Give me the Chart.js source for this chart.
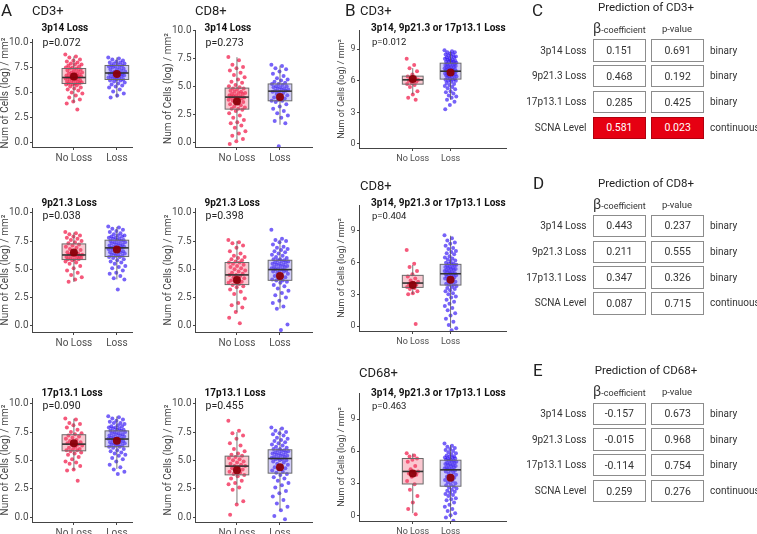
<!DOCTYPE html>
<html>
<head>
<meta charset="utf-8">
<script src="https://cdn.jsdelivr.net/npm/chart.js@4.4.1/dist/chart.umd.min.js"></script>
<style>
  body { margin: 0; width: 757px; height: 534px; position: relative; background: #fff; overflow: hidden; font-family: Roboto, sans-serif; color: #222; }
  canvas { position: absolute; }
  .t { position: absolute; white-space: nowrap; line-height: 1; transform: translateY(-50%); }
  .c { transform: translate(-50%, -50%); }
  .r { transform: translate(-100%, -50%); }
  .cell { position: absolute; box-sizing: border-box; border: 1px solid #8c8c8c; display: flex; align-items: center; justify-content: center; font-size: 10.5px; color: #333; }
  .cell.sig { background: #e60012; color: #fff; border-color: #b0000e; }
</style>
</head>
<body>
<script>
// ---- data ----
const groups = ['No Loss', 'Loss'];
const yTicksA = [0, 2.5, 5, 7.5, 10];
const yTicksB = [0, 3, 6, 9];

// CD3+ / 3p14
const cd3_3p14_noLoss = [8.8,8.6,8.5,8.3,8.2,8.1,8.0,7.9,7.8,7.8,7.7,7.6,7.5,7.5,7.4,7.4,7.3,7.2,7.2,7.1,7.0,7.0,6.9,6.9,6.8,6.8,6.7,6.7,6.6,6.6,6.5,6.5,6.5,6.4,6.4,6.3,6.3,6.2,6.2,6.1,6.1,6.0,6.0,5.9,5.9,5.9,5.8,5.8,5.7,5.6,5.5,5.4,5.3,5.2,5.0,4.9,4.7,4.5,4.3,4.1,3.9,3.3];
const cd3_3p14_loss = [8.5,8.4,8.3,8.2,8.1,8.0,8.0,7.9,7.9,7.8,7.7,7.7,7.6,7.6,7.5,7.5,7.4,7.3,7.3,7.2,7.1,7.1,7.0,7.0,6.9,6.9,6.9,6.8,6.8,6.7,6.7,6.6,6.6,6.5,6.5,6.4,6.4,6.3,6.3,6.2,6.2,6.1,6.0,5.9,5.8,5.7,5.6,5.5,5.3,5.1,4.9,4.7,4.5];
const cd3_3p14_box = [[4.0,5.9,6.5,7.4,8.6],[4.5,6.3,6.95,7.7,8.5]];
const cd3_3p14_mean = [6.6, 6.85];

// CD8+ / 3p14
const cd8_3p14_noLoss = [7.6,7.3,6.9,6.7,6.6,6.4,6.2,6.0,5.8,5.6,5.4,5.3,5.1,5.0,4.9,4.8,4.8,4.7,4.6,4.5,4.5,4.4,4.4,4.3,4.3,4.2,4.2,4.1,4.1,4.0,4.0,4.0,3.9,3.9,3.8,3.8,3.7,3.6,3.5,3.4,3.3,3.2,3.1,3.0,3.0,2.9,2.8,2.6,2.4,2.2,2.0,1.8,1.7,1.5,1.3,1.0,0.8,0.6,0.3,0.1,-0.15];
const cd8_3p14_loss = [6.9,6.8,6.6,6.5,6.3,6.1,5.9,5.7,5.6,5.5,5.4,5.3,5.2,5.2,5.1,5.0,5.0,4.9,4.9,4.8,4.8,4.7,4.7,4.6,4.6,4.5,4.5,4.4,4.3,4.2,4.1,4.0,3.9,3.8,3.7,3.7,3.6,3.4,3.2,3.0,2.8,2.6,2.4,2.2,1.9,1.7,-0.35];
const cd8_3p14_box = [[0.24,2.96,4.03,4.83,7.58],[1.57,3.7,4.56,5.2,6.83]];
const cd8_3p14_mean = [3.64, 4.03];

// CD3+ / 9p21.3
const cd3_9p21_noLoss = [8.3,8.2,8.1,8.0,7.9,7.8,7.7,7.6,7.5,7.4,7.3,7.2,7.1,7.0,6.9,6.8,6.7,6.6,6.5,6.4,6.4,6.3,6.3,6.3,6.2,6.2,6.1,6.1,6.0,6.0,5.9,5.9,5.9,5.8,5.7,5.6,5.5,5.3,5.1,4.9,4.7,4.5,4.3,4.1,3.9];
const cd3_9p21_loss = [8.8,8.7,8.6,8.5,8.4,8.3,8.2,8.1,8.0,8.0,7.9,7.9,7.8,7.8,7.7,7.7,7.6,7.6,7.5,7.5,7.4,7.4,7.3,7.3,7.2,7.2,7.1,7.1,7.0,7.0,6.9,6.9,6.9,6.8,6.8,6.7,6.7,6.6,6.6,6.5,6.5,6.4,6.4,6.3,6.3,6.2,6.2,6.1,6.1,6.0,5.9,5.8,5.7,5.6,5.5,5.3,5.2,5.1,4.9,4.7,4.6,4.4,4.2,4.1,3.2];
const cd3_9p21_box = [[3.87,5.86,6.27,7.25,8.26],[4.1,6.13,6.9,7.58,8.76]];
const cd3_9p21_mean = [6.48, 6.75];

// CD8+ / 9p21.3
const cd8_9p21_noLoss = [7.6,7.4,7.3,7.1,6.9,6.6,6.4,6.2,6.1,6.0,5.9,5.8,5.7,5.6,5.6,5.5,5.4,5.3,5.2,5.1,5.0,4.9,4.8,4.7,4.6,4.5,4.5,4.4,4.3,4.2,4.1,4.0,3.9,3.9,3.8,3.7,3.6,3.5,3.4,3.2,3.0,2.8,2.4,2.0,1.8,1.6,1.2,0.7,0.2];
const cd8_9p21_loss = [8.5,7.7,7.6,7.5,7.4,7.2,7.0,6.9,6.8,6.7,6.6,6.5,6.4,6.3,6.2,6.1,6.0,5.9,5.9,5.8,5.8,5.7,5.7,5.6,5.6,5.5,5.5,5.4,5.4,5.3,5.3,5.2,5.2,5.1,5.1,5.0,5.0,4.9,4.9,4.8,4.8,4.7,4.6,4.5,4.4,4.3,4.2,4.1,4.0,4.0,3.9,3.8,3.6,3.5,3.3,3.1,2.9,2.7,2.5,2.2,2.0,1.7,1.5,0.1,-0.4];
const cd8_9p21_box = [[1.2,3.64,4.5,5.6,7.5],[1.5,4.02,4.97,5.8,7.64]];
const cd8_9p21_mean = [4.05, 4.4];

// CD3+ / 17p13.1
const cd3_17p13_noLoss = [8.7,8.6,8.3,8.2,8.1,7.9,7.7,7.5,7.4,7.3,7.2,7.1,7.0,6.9,6.8,6.7,6.6,6.5,6.5,6.4,6.4,6.3,6.2,6.1,6.0,6.0,5.9,5.9,5.8,5.7,5.6,5.5,5.3,5.1,4.9,4.8,4.7,4.5,4.2,4.1,3.2];
const cd3_17p13_loss = [8.9,8.8,8.7,8.6,8.5,8.4,8.3,8.3,8.2,8.1,8.0,8.0,7.9,7.9,7.8,7.8,7.7,7.7,7.6,7.6,7.5,7.5,7.4,7.4,7.3,7.3,7.2,7.2,7.1,7.1,7.0,7.0,6.9,6.9,6.9,6.8,6.8,6.7,6.7,6.6,6.6,6.5,6.5,6.4,6.4,6.3,6.3,6.2,6.2,6.1,6.0,5.9,5.8,5.7,5.6,5.5,5.4,5.2,5.1,4.9,4.6,4.4,4.2,4.0,3.8];
const cd3_17p13_box = [[4.16,5.84,6.43,7.26,8.67],[4.25,6.2,6.88,7.6,8.88]];
const cd3_17p13_mean = [6.5, 6.73];

// CD8+ / 17p13.1
const cd8_17p13_noLoss = [8.5,7.6,7.4,7.2,6.9,6.5,6.3,6.0,5.8,5.6,5.5,5.4,5.3,5.2,5.1,5.0,4.9,4.8,4.7,4.6,4.5,4.5,4.4,4.3,4.2,4.1,4.0,3.9,3.8,3.7,3.6,3.4,3.2,3.0,2.9,2.6,2.4,1.4,1.1,0.2];
const cd8_17p13_loss = [7.9,7.8,7.6,7.5,7.4,7.3,7.2,7.0,6.9,6.8,6.7,6.6,6.5,6.4,6.3,6.2,6.1,6.0,6.0,5.9,5.9,5.8,5.8,5.7,5.7,5.6,5.6,5.5,5.5,5.4,5.4,5.3,5.3,5.2,5.2,5.1,5.1,5.0,5.0,4.9,4.8,4.7,4.6,4.5,4.4,4.3,4.2,4.1,4.0,3.9,3.8,3.7,3.5,3.4,3.2,3.0,2.8,2.6,2.3,2.1,1.8,1.5,1.2,0.9,0.6,0.1,-0.2];
const cd8_17p13_box = [[1.18,3.72,4.49,5.37,7.5],[0.6,3.87,5.16,5.93,7.85]];
const cd8_17p13_mean = [4.13, 4.4];

// B: any loss (3p14, 9p21.3 or 17p13.1)
const cd3_any_noLoss = [8.1,7.5,7.2,6.9,6.6,6.4,6.3,6.2,6.1,6.1,6.0,5.9,5.8,5.7,5.6,5.4,5.0,4.7,4.4,4.2];
const cd3_any_loss = [8.9,8.8,8.7,8.7,8.6,8.5,8.5,8.4,8.3,8.3,8.2,8.2,8.1,8.1,8.0,8.0,7.9,7.9,7.8,7.8,7.8,7.7,7.7,7.6,7.6,7.5,7.5,7.5,7.4,7.4,7.3,7.3,7.3,7.2,7.2,7.1,7.1,7.1,7.0,7.0,7.0,6.9,6.9,6.9,6.8,6.8,6.8,6.7,6.7,6.6,6.6,6.6,6.5,6.5,6.4,6.4,6.3,6.3,6.2,6.2,6.1,6.1,6.0,6.0,5.9,5.8,5.7,5.6,5.5,5.4,5.3,5.2,5.0,4.9,4.8,4.6,4.5,4.4,4.2,4.0,3.7,3.3];
const cd3_any_box = [[4.73,5.68,6.09,6.44,7.2],[4.2,6.16,6.91,7.67,8.77]];
const cd3_any_mean = [6.18, 6.78];

const cd8_any_noLoss = [7.2,5.9,5.6,5.2,4.9,4.7,4.5,4.3,4.2,4.1,4.0,3.9,3.8,3.7,3.6,3.5,3.3,3.1,3.0,0.2];
const cd8_any_loss = [8.6,8.3,8.1,7.9,7.8,7.6,7.4,7.3,7.1,7.0,6.9,6.8,6.6,6.5,6.4,6.3,6.2,6.1,6.0,5.9,5.9,5.8,5.8,5.7,5.7,5.6,5.6,5.5,5.5,5.4,5.4,5.3,5.3,5.2,5.2,5.1,5.1,5.0,5.0,4.9,4.9,4.8,4.8,4.7,4.7,4.6,4.5,4.5,4.4,4.3,4.2,4.1,4.0,3.9,3.9,3.8,3.7,3.6,3.5,3.4,3.3,3.1,3.0,2.8,2.7,2.5,2.3,2.1,1.9,1.7,1.5,1.2,1.0,0.7,0.4,0.1,-0.2,-0.4];
const cd8_any_box = [[3.03,3.66,4.07,4.8,5.78],[-0.2,3.88,4.95,5.84,8.55]];
const cd8_any_mean = [3.88, 4.38];

const cd68_any_noLoss = [5.8,5.6,5.5,5.3,5.2,5.0,4.6,4.3,4.1,4.0,3.9,3.8,3.6,3.2,2.9,2.4,1.8,1.2,0.6,0.1];
const cd68_any_loss = [6.7,6.5,6.4,6.3,6.2,6.1,6.0,5.9,5.8,5.7,5.6,5.5,5.5,5.4,5.4,5.3,5.3,5.2,5.2,5.1,5.1,5.0,5.0,4.9,4.9,4.8,4.8,4.7,4.7,4.6,4.6,4.5,4.5,4.4,4.4,4.3,4.3,4.2,4.2,4.1,4.0,3.9,3.8,3.7,3.6,3.5,3.4,3.3,3.2,3.1,3.0,2.9,2.8,2.7,2.6,2.5,2.4,2.3,2.2,2.1,2.0,1.9,1.8,1.6,1.5,1.4,1.2,1.0,0.8,0.6,0.4,0.2,0.0,-0.2,-0.5];
const cd68_any_box = [[0.2,2.93,4.1,5.31,5.78],[-0.3,2.72,4.25,5.15,6.56]];
const cd68_any_mean = [3.91, 3.5];

// C-E: regression tables
const predictors = ['3p14 Loss', '9p21.3 Loss', '17p13.1 Loss', 'SCNA Level'];
const predictorType = ['binary', 'binary', 'binary', 'continuous'];
const cd3Beta = [0.151, 0.468, 0.285, 0.581];
const cd3P = [0.691, 0.192, 0.425, 0.023];
const cd8Beta = [0.443, 0.211, 0.347, 0.087];
const cd8P = [0.237, 0.555, 0.326, 0.715];
const cd68Beta = [-0.157, -0.015, -0.114, 0.259];
const cd68P = [0.673, 0.968, 0.754, 0.276];

// ---- layout ----
Chart.defaults.font.family = 'Roboto, sans-serif';
const fmtA = v => v.toFixed(1);
const fmtB = v => String(v);
const subB = '3p14, 9p21.3 or 17p13.1 Loss';

const panels = [
  { pts: [cd3_3p14_noLoss, cd3_3p14_loss], box: cd3_3p14_box, mean: cd3_3p14_mean, sub: '3p14 Loss', p: 'p=0.072', subY: 28, pY: 43.3,
    axisX: 32, top: 39.3, bottom: 147, right: 133, yMin: -0.43, yMax: 10.34, yW: 33, xMin: 0.025, xMax: 2.352, ticks: yTicksA, fmt: fmtA, fs: 10, jit: 0.2 },
  { pts: [cd8_3p14_noLoss, cd8_3p14_loss], box: cd8_3p14_box, mean: cd8_3p14_mean, sub: '3p14 Loss', p: 'p=0.273', subY: 28, pY: 43.3,
    axisX: 195, top: 30, bottom: 147.3, right: 313, yMin: -0.41, yMax: 10, yW: 33, xMin: 0.025, xMax: 2.744, ticks: yTicksA, fmt: fmtA, fs: 10, jit: 0.2 },
  { pts: [cd3_9p21_noLoss, cd3_9p21_loss], box: cd3_9p21_box, mean: cd3_9p21_mean, sub: '9p21.3 Loss', p: 'p=0.038', subY: 202.7, pY: 215.7,
    axisX: 32, top: 207.7, bottom: 331.7, right: 133, yMin: -0.57, yMax: 10.44, yW: 33, xMin: 0.025, xMax: 2.352, ticks: yTicksA, fmt: fmtA, fs: 10, jit: 0.2 },
  { pts: [cd8_9p21_noLoss, cd8_9p21_loss], box: cd8_9p21_box, mean: cd8_9p21_mean, sub: '9p21.3 Loss', p: 'p=0.398', subY: 202.7, pY: 215.7,
    axisX: 195, top: 207.7, bottom: 331.7, right: 313, yMin: -0.57, yMax: 10.44, yW: 33, xMin: 0.025, xMax: 2.744, ticks: yTicksA, fmt: fmtA, fs: 10, jit: 0.2 },
  { pts: [cd3_17p13_noLoss, cd3_17p13_loss], box: cd3_17p13_box, mean: cd3_17p13_mean, sub: '17p13.1 Loss', p: 'p=0.090', subY: 392.7, pY: 406,
    axisX: 32, top: 398.3, bottom: 522, right: 133, yMin: -0.44, yMax: 10.5, yW: 33, xMin: 0.025, xMax: 2.352, ticks: yTicksA, fmt: fmtA, fs: 10, jit: 0.2 },
  { pts: [cd8_17p13_noLoss, cd8_17p13_loss], box: cd8_17p13_box, mean: cd8_17p13_mean, sub: '17p13.1 Loss', p: 'p=0.455', subY: 392.7, pY: 406,
    axisX: 195, top: 398.3, bottom: 522, right: 313, yMin: -0.44, yMax: 10.5, yW: 33, xMin: 0.025, xMax: 2.744, ticks: yTicksA, fmt: fmtA, fs: 10, jit: 0.2 },
  { pts: [cd3_any_noLoss, cd3_any_loss], box: cd3_any_box, mean: cd3_any_mean, sub: subB, p: 'p=0.012', subY: 28.3, pY: 41.7,
    axisX: 359, top: 30, bottom: 148.3, right: 506.7, yMin: -0.38, yMax: 10.82, yW: 23, xMin: -0.421, xMax: 3.466, ticks: yTicksB, fmt: fmtB, fs: 9, jit: 0.16 },
  { pts: [cd8_any_noLoss, cd8_any_loss], box: cd8_any_box, mean: cd8_any_mean, sub: subB, p: 'p=0.404', subY: 203.3, pY: 215.7,
    axisX: 359, top: 205, bottom: 331, right: 506.7, yMin: -0.47, yMax: 11.46, yW: 23, xMin: -0.421, xMax: 3.466, ticks: yTicksB, fmt: fmtB, fs: 9, jit: 0.16 },
  { pts: [cd68_any_noLoss, cd68_any_loss], box: cd68_any_box, mean: cd68_any_mean, sub: subB, p: 'p=0.463', subY: 392.7, pY: 405.7,
    axisX: 359, top: 393, bottom: 520.7, right: 506.7, yMin: -0.53, yMax: 11.43, yW: 23, xMin: -0.421, xMax: 3.466, ticks: yTicksB, fmt: fmtB, fs: 9, jit: 0.16 },
];

function txt(s, x, y, css, cls) {
  const d = document.createElement('div');
  d.className = 't' + (cls ? ' ' + cls : '');
  d.style.left = x + 'px';
  d.style.top = y + 'px';
  d.style.cssText += css || '';
  d.innerHTML = s;
  document.body.appendChild(d);
  return d;
}

// deterministic horizontal spread of the points
function jitter(vals, cx, spread) {
  return vals.map((v, i) => ({ x: cx + (((i * 0.618034) % 1) - 0.5) * 2 * spread, y: v }));
}

const ptColors = ['rgba(240,10,60,0.68)', 'rgba(55,25,245,0.68)'];
const boxFill = ['rgba(241,84,112,0.33)', 'rgba(112,98,235,0.33)'];
const boxW = 0.55;

function makeChart(p) {
  const padTop = 10, padRight = 3, xH = 22;
  const w = Math.round(p.yW + (p.right - p.axisX) + padRight);
  const h = Math.round(padTop + (p.bottom - p.top) + xH);
  const cv = document.createElement('canvas');
  cv.width = w; cv.height = h;
  cv.style.width = w + 'px'; cv.style.height = h + 'px';
  cv.style.left = (p.axisX - p.yW) + 'px';
  cv.style.top = (p.top - padTop) + 'px';
  document.body.appendChild(cv);

  const boxes = {
    id: 'boxes',
    afterDatasetDraw(chart, args) {
      if (args.index !== 1) return;
      const { ctx, scales: { x, y } } = chart;
      p.box.forEach((s, k) => {
        const cx = x.getPixelForValue(k + 1);
        const half = (x.getPixelForValue(k + 1 + boxW / 2) - x.getPixelForValue(k + 1 - boxW / 2)) / 2;
        const [lo, q1, md, q3, hi] = s.map(v => y.getPixelForValue(v));
        ctx.save();
        ctx.strokeStyle = '#555';
        ctx.lineWidth = 0.8;
        ctx.beginPath();
        ctx.moveTo(cx, hi); ctx.lineTo(cx, q3);
        ctx.moveTo(cx, q1); ctx.lineTo(cx, lo);
        ctx.stroke();
        ctx.fillStyle = boxFill[k];
        ctx.fillRect(cx - half, q3, 2 * half, q1 - q3);
        ctx.strokeStyle = '#6a6a6a';
        ctx.lineWidth = 1;
        ctx.strokeRect(cx - half, q3, 2 * half, q1 - q3);
        ctx.strokeStyle = '#333';
        ctx.lineWidth = 1.6;
        ctx.beginPath();
        ctx.moveTo(cx - half, md); ctx.lineTo(cx + half, md);
        ctx.stroke();
        ctx.restore();
      });
    }
  };

  new Chart(cv, {
    type: 'scatter',
    data: {
      datasets: [
        { data: p.mean.map((v, k) => ({ x: k + 1, y: v })), pointRadius: 4, pointBackgroundColor: 'rgba(139,0,10,0.95)', pointBorderWidth: 0 },
        { data: jitter(p.pts[0], 1, p.jit), pointRadius: 2, pointBackgroundColor: ptColors[0], pointBorderWidth: 0 },
        { data: jitter(p.pts[1], 2, p.jit), pointRadius: 2, pointBackgroundColor: ptColors[1], pointBorderWidth: 0 },
      ]
    },
    options: {
      responsive: false,
      animation: false,
      events: [],
      layout: { padding: { top: padTop, right: padRight, left: 0, bottom: 0 } },
      plugins: { legend: { display: false }, tooltip: { enabled: false } },
      scales: {
        x: {
          type: 'linear', min: p.xMin, max: p.xMax,
          afterBuildTicks: s => { s.ticks = [1, 2].map(v => ({ value: v })); },
          afterFit: s => { s.height = xH; },
          ticks: { callback: v => groups[v - 1] || '', color: '#4d4d4d', font: { size: p.fs }, padding: 2, maxRotation: 0, autoSkip: false },
          grid: { drawOnChartArea: false, tickLength: 3, color: '#444' },
          border: { color: '#444', width: 1 }
        },
        y: {
          min: p.yMin, max: p.yMax,
          afterBuildTicks: s => { s.ticks = p.ticks.map(v => ({ value: v })); },
          afterFit: s => { s.width = p.yW; },
          ticks: { callback: v => p.fmt(v), color: '#4d4d4d', font: { size: p.fs }, padding: 1.5, autoSkip: false },
          title: { display: true, text: 'Num of Cells (log) / mm²', color: '#444', font: { size: p.fs }, padding: 0 },
          grid: { drawOnChartArea: false, tickLength: 2, color: '#444' },
          border: { color: '#444', width: 1 }
        }
      }
    },
    plugins: [boxes]
  });

  const subX = p.axisX < 350 ? p.axisX + 9.5 : 371;
  txt(p.sub, subX, p.subY, 'font-size:10px;font-weight:bold;color:#111;');
  txt(p.p, subX + 1, p.pY, 'font-size:' + (p.fs + 0.5) + 'px;color:#222;');
}

panels.forEach(makeChart);

// panel letters and titles
txt('A', 1, 10, 'font-size:17px;');
txt('B', 345, 10, 'font-size:17px;');
txt('C', 532, 9.5, 'font-size:17px;');
txt('D', 533, 183, 'font-size:17px;');
txt('E', 533, 370, 'font-size:17px;');
txt('CD3+', 32, 9.5, 'font-size:13px;');
txt('CD8+', 195, 9.5, 'font-size:13px;');
txt('CD3+', 360, 9.5, 'font-size:13px;');
txt('CD8+', 360, 185, 'font-size:13px;');
txt('CD68+', 359, 372, 'font-size:13px;');

// tables
function makeTable(title, beta, pv, titleY, headY, rowTop) {
  txt(title, 646, titleY, 'font-size:11.5px;color:#222;', 'c');
  txt('<span style="font-size:14px">β</span>-coefficient', 593, headY, 'font-size:9px;color:#333;');
  txt('p-value', 677, headY + 1, 'font-size:9.5px;color:#333;', 'c');
  predictors.forEach((name, i) => {
    const top = rowTop + i * 25.8;
    const sig = pv[i] < 0.05;
    txt(name, 586.5, top + 11.2, 'font-size:10px;color:#333;', 'r');
    [[592.7, beta[i]], [651, pv[i]]].forEach(([x, v]) => {
      const c = document.createElement('div');
      c.className = 'cell' + (sig ? ' sig' : '');
      c.style.left = x + 'px'; c.style.top = top + 'px';
      c.style.width = '53.3px'; c.style.height = '22.4px';
      c.textContent = v.toFixed(3);
      document.body.appendChild(c);
    });
    txt(predictorType[i], 710, top + 11.2, 'font-size:10px;color:#333;');
  });
}
makeTable('Prediction of CD3+', cd3Beta, cd3P, 8, 27.5, 39.3);
makeTable('Prediction of CD8+', cd8Beta, cd8P, 184, 203.5, 214.8);
makeTable('Prediction of CD68+', cd68Beta, cd68P, 370.5, 390.5, 402.5);
</script>
</body>
</html>
